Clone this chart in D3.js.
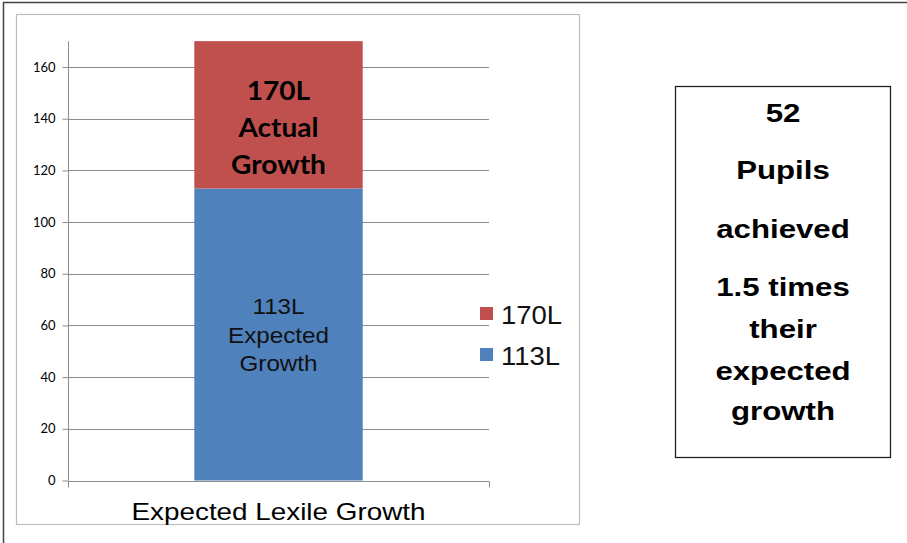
<!DOCTYPE html>
<html><head><meta charset="utf-8">
<script src="https://cdn.jsdelivr.net/npm/d3@7"></script>
<style>body{margin:0;background:#fff}svg{display:block}</style>
</head><body>
<svg id="c" width="907" height="543"></svg>
<script>
const categories = ["Expected Lexile Growth"];
const seriesNames = ["113L", "170L"];
const expected = [113];
const actualExtra = [57]; // 170 - 113
const yTicks = [0, 20, 40, 60, 80, 100, 120, 140, 160];
const colors = {"113L": "#4F81BD", "170L": "#C0504D"};
const legendItems = ["170L", "113L"];
const blueLabel = ["113L", "Expected", "Growth"];
const redLabel = ["170L", "Actual", "Growth"];
const boxLines = ["52", "Pupils", "achieved", "1.5 times", "their", "expected", "growth"];

const ARIAL = "'Liberation Sans', Arial, sans-serif";
const svg = d3.select("#c");
// outer frame
svg.append("path").attr("d", "M3.5,543 V2.5 H907").attr("fill", "none").attr("stroke", "#444").attr("stroke-width", 1.5);
// chart box
svg.append("rect").attr("x", 16.5).attr("y", 14.5).attr("width", 563).attr("height", 510)
  .attr("fill", "#fff").attr("stroke", "#bdbdbd").attr("stroke-width", 1.2);

const x = d3.scaleBand().domain(categories).range([68, 489]).paddingInner(0.6).paddingOuter(0.3);
const y = d3.scaleLinear().domain([0, 160]).range([480.5, 67]);

// gridlines
svg.append("g").selectAll("line").data(yTicks.filter(d => d > 0)).join("line")
  .attr("x1", 68).attr("x2", 489).attr("y1", d => Math.round(y(d)) + 0.5).attr("y2", d => Math.round(y(d)) + 0.5)
  .attr("stroke", "#8c8c8c").attr("stroke-width", 1);

// y axis
const yAxis = svg.append("g").attr("transform", "translate(68.5,0)")
  .call(d3.axisLeft(y).tickValues(yTicks).tickSize(6).tickPadding(7).tickFormat(d3.format("d")));
yAxis.select(".domain").attr("stroke", "#8c8c8c").attr("d", "M0," + y(0) + "V" + y(170));
yAxis.selectAll(".tick line").attr("stroke", "#8c8c8c");
yAxis.selectAll("text").attr("font-family", "Lato, 'Open Sans', sans-serif").attr("font-size", 13).attr("fill", "#000");

// x axis
const xAxis = svg.append("g").attr("transform", "translate(0," + (Math.round(y(0)) + 0.5) + ")");
xAxis.append("line").attr("x1", 68).attr("x2", 489).attr("stroke", "#8c8c8c");
xAxis.selectAll("line.t").data([68.5, 489.5]).join("line").attr("class", "t")
  .attr("x1", d => d).attr("x2", d => d).attr("y1", 0).attr("y2", 6).attr("stroke", "#8c8c8c");
svg.selectAll("text.cat").data(categories).join("text").attr("class", "cat")
  .attr("transform", d => "translate(" + (x(d) + x.bandwidth() / 2) + ",520) scale(1.16,1)")
  .attr("text-anchor", "middle")
  .attr("font-family", ARIAL).attr("font-size", 24).text(d => d);

// bars
const stackData = categories.map((c, i) => ({cat: c, "113L": expected[i], "170L": actualExtra[i]}));
const stack = d3.stack().keys(seriesNames)(stackData);
svg.append("g").selectAll("g").data(stack).join("g").attr("fill", d => colors[d.key])
  .selectAll("rect").data(d => d).join("rect")
  .attr("x", d => x(d.data.cat)).attr("width", x.bandwidth())
  .attr("y", d => y(d[1])).attr("height", d => y(d[0]) - y(d[1]));

// bar labels
const cx = x(categories[0]) + x.bandwidth() / 2;
svg.append("g").selectAll("text").data(blueLabel).join("text")
  .attr("transform", (d, i) => "translate(" + cx + "," + (314 + i * 28.5) + ") scale(1.1,1)")
  .attr("text-anchor", "middle")
  .attr("font-family", ARIAL).attr("font-size", 22).attr("fill", "#111").text(d => d);
svg.append("g").selectAll("text").data(redLabel).join("text")
  .attr("transform", (d, i) => "translate(" + cx + "," + (100 + i * 37) + ") scale(1.08,1)")
  .attr("text-anchor", "middle")
  .attr("font-family", "Lato, 'Open Sans', sans-serif").attr("font-weight", "bold").attr("font-size", 26).attr("fill", "#000").text(d => d);

// legend
const lg = svg.append("g").selectAll("g").data(legendItems).join("g")
  .attr("transform", (d, i) => "translate(480," + (307 + i * 41) + ")");
lg.append("rect").attr("width", 13).attr("height", 13).attr("fill", d => colors[d]);
lg.append("text").attr("transform", "translate(21,17) scale(1.1,1)").attr("font-family", ARIAL)
  .attr("font-size", 25).attr("fill", "#111").text(d => d);

// text box
svg.append("rect").attr("x", 675.5).attr("y", 86.5).attr("width", 215).attr("height", 371)
  .attr("fill", "#fff").attr("stroke", "#222").attr("stroke-width", 1.3);
const boxY = [122, 179, 238, 296, 338, 380, 420];
svg.append("g").selectAll("text").data(boxLines).join("text")
  .attr("transform", (d, i) => "translate(783," + boxY[i] + ") scale(1.2,1)")
  .attr("text-anchor", "middle")
  .attr("font-family", ARIAL).attr("font-weight", "bold").attr("font-size", 26)
  .attr("fill", "#000").text(d => d);
</script>
</body></html>
